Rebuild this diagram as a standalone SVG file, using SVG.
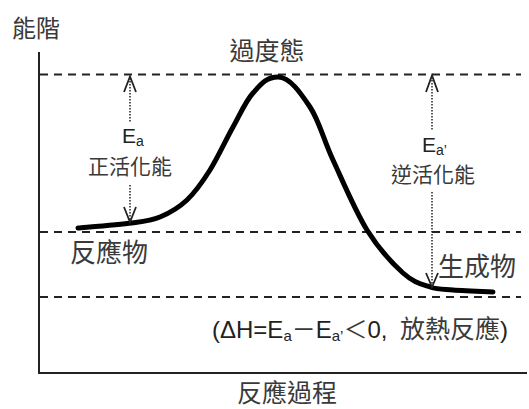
<svg xmlns="http://www.w3.org/2000/svg" width="529" height="409" viewBox="0 0 529 409">
<style>
.axis{stroke:#222;stroke-width:2;fill:none}
.lvl{stroke:#222;stroke-width:2;stroke-dasharray:8,6;fill:none}
.curve{stroke:#000;stroke-width:5;fill:none;stroke-linecap:round}
.dot{stroke:#222;stroke-width:1.5;stroke-dasharray:1.5,1.5;fill:none}
.head{stroke:#222;stroke-width:1.8;fill:none}
.cjk{font-family:"Noto Sans CJK TC","Noto Sans CJK SC",sans-serif;fill:#3a3a3a}
.lat{font-family:"Liberation Sans","Noto Sans CJK TC",sans-serif;fill:#222}
</style>
<rect width="529" height="409" fill="#fff"/>
<g id="axes">
<path class="axis" d="M39,52 V373 H527"/>
</g>
<g id="levels">
<line class="lvl" x1="40" y1="74.5" x2="521" y2="74.5"/>
<line class="lvl" x1="40" y1="232" x2="521" y2="232"/>
<line class="lvl" x1="40" y1="297" x2="521" y2="297"/>
</g>
<g id="curve">
<path class="curve" d="M78,228 C87,227.2 118.3,224.8 132,223 C145.7,221.2 150.8,220.8 160,217 C169.2,213.2 178.7,207.8 187,200 C195.3,192.2 202.3,182.2 210,170 C217.7,157.8 225.8,139.8 233,127 C240.2,114.2 245.5,101.3 253,93 C260.5,84.7 266,77 278,77 C290,77 300.8,93.2 310,107 C319.2,120.8 323.5,139.5 333,160 C342.5,180.5 355.3,211.2 367,230 C378.7,248.8 392.5,263.5 403,273 C413.5,282.5 421.7,284.2 430,287 C438.3,289.8 442.5,289.2 453,290 C463.5,290.8 486.3,291.7 493,292"/>
</g>
<g id="connectors">
<g id="arrow-forward">
<line class="dot" x1="130" y1="78" x2="130" y2="122"/>
<line class="dot" x1="130" y1="185" x2="130" y2="221"/>
<polyline class="head" points="124,92 130,76.5 136,92"/>
<polyline class="head" points="124,207 130,222 136,207"/>
</g>
<g id="arrow-reverse">
<line class="dot" x1="432" y1="77" x2="432" y2="130"/>
<line class="dot" x1="432" y1="192" x2="432" y2="286"/>
<polyline class="head" points="426,92 432,75.5 438,92"/>
<polyline class="head" points="426,273 432,287 438,273"/>
</g>
</g>
<g id="label-y-axis"><text class="cjk" x="12" y="37" font-size="24">能階</text></g>
<g id="label-transition"><text class="cjk" x="267" y="60" font-size="25" text-anchor="middle">過度態</text></g>
<g id="label-reactant"><text class="cjk" x="70" y="262" font-size="26">反應物</text></g>
<g id="label-product"><text class="cjk" x="438" y="276" font-size="26">生成物</text></g>
<g id="label-x-axis"><text class="cjk" x="237" y="402" font-size="25">反應過程</text></g>
<g id="label-ea">
<text class="lat" x="122" y="143" font-size="21">E<tspan font-size="14" dy="3">a</tspan></text>
<text class="cjk" x="130" y="174" font-size="21" text-anchor="middle">正活化能</text>
</g>
<g id="label-ea-rev">
<text class="lat" x="422" y="152" font-size="21">E<tspan font-size="14" dy="3">a’</tspan></text>
<text class="cjk" x="433" y="182" font-size="21" text-anchor="middle">逆活化能</text>
</g>
<g id="label-dh">
<text class="lat" x="212" y="338" font-size="24">(ΔH=E<tspan font-size="15" dy="3">a</tspan><tspan dy="-3" class="cjk">－</tspan>E<tspan font-size="15" dy="3">a’</tspan><tspan dy="-3" class="cjk">＜</tspan>0,<tspan x="400" class="cjk" font-size="25">放熱反應</tspan>)</text>
</g>
</svg>
